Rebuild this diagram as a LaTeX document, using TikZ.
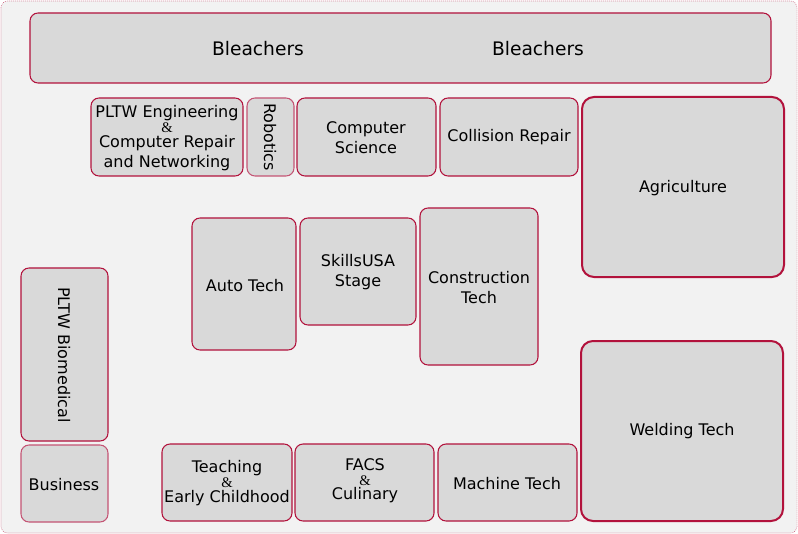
\documentclass[tikz,border=0pt]{standalone}
\usepackage{fontspec}
\setmainfont{DejaVu Sans}
\newfontfamily\ampfont{Liberation Serif}
\usepackage{xcolor}
\definecolor{boothedge}{RGB}{178,18,60}
\definecolor{boothlight}{RGB}{196,84,116}
\definecolor{boothfill}{RGB}{217,217,217}
\definecolor{floorfill}{RGB}{242,242,242}
\newcommand{\amp}{\\[-4pt]{\ampfont\fontsize{11}{12}\selectfont\&}\\[-4pt]}

\begin{document}
\begin{tikzpicture}[x=0.75pt,y=0.75pt,yscale=-1,xscale=1,
  booth/.style={draw=boothedge, fill=boothfill, line width=0.8pt, rounded corners=6pt},
  bigbooth/.style={booth, line width=1.5pt, rounded corners=9pt},
  paleboth/.style={booth, draw=boothlight},
  label/.style={inner sep=0.75pt, align=center, font=\fontsize{12}{15}\selectfont}]
\useasboundingbox (0,0) rectangle (798,534);

%Shape: Floor outline
\draw [draw=boothedge!70, fill=floorfill, densely dotted, line width=0.5pt, rounded corners=5pt] (1,1) rectangle (797,533);

%Shape: Bleachers
\draw [booth] (30,13) rectangle (771,83);
%Shape: top row
\draw [booth] (91,98) rectangle (243,176);
\draw [paleboth] (247,98) rectangle (294,176);
\draw [booth] (297,98) rectangle (436,176);
\draw [booth] (440,98) rectangle (578,176);
\draw [bigbooth] (582,97) rectangle (784,277);
%Shape: middle
\draw [booth] (192,218) rectangle (296,350);
\draw [booth] (300,218) rectangle (416,325);
\draw [booth] (420,208) rectangle (538,365);
\draw [booth] (21,268) rectangle (108,441);
\draw [bigbooth] (581,341) rectangle (783,521);
%Shape: bottom row
\draw [paleboth] (21,445) rectangle (108,522);
\draw [booth] (162,444) rectangle (292,521);
\draw [booth] (295,444) rectangle (434,521);
\draw [booth] (438,444) rectangle (577,521);

% Text Node
\node [label, font=\fontsize{14}{16}\selectfont] (bleachL) at (258,49) {Bleachers};
% Text Node
\node [label, font=\fontsize{14}{16}\selectfont] (bleachR) at (538,49) {Bleachers};
% Text Node
\node [label] (engineering) at (167,138) {PLTW Engineering\amp Computer Repair\\and Networking};
% Text Node
\node [label, rotate=-90] (robotics) at (270,137) {Robotics};
% Text Node
\node [label] (compsci) at (366,138) {Computer\\Science};
% Text Node
\node [label] (collision) at (509,137) {Collision Repair};
% Text Node
\node [label] (agriculture) at (683,188) {Agriculture};
% Text Node
\node [label] (autotech) at (245,286) {Auto Tech};
% Text Node
\node [label] (skills) at (358,272) {SkillsUSA\\Stage};
% Text Node
\node [label] (construction) at (479,288) {Construction\\Tech};
% Text Node
\node [label, rotate=-90] (biomed) at (64,355) {PLTW Biomedical};
% Text Node
\node [label] (welding) at (682,431) {Welding Tech};
% Text Node
\node [label] (business) at (64,485) {Business};
% Text Node
\node [label] (teaching) at (227,483) {Teaching\amp Early Childhood};
% Text Node
\node [label] (facs) at (365,481) {FACS\amp Culinary};
% Text Node
\node [label] (machine) at (507,484) {Machine Tech};

\end{tikzpicture}
\end{document}
